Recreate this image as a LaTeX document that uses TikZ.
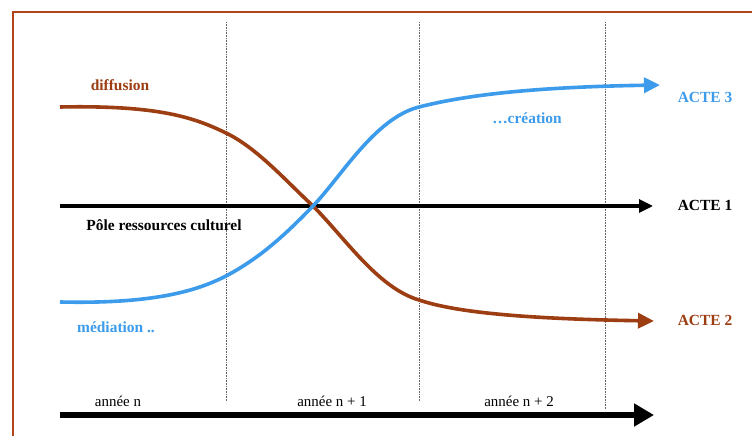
\documentclass[tikz,border=0pt]{standalone}
\usepackage{fontspec}
\setmainfont{Liberation Serif}
\usetikzlibrary{arrows.meta}
\definecolor{brn}{HTML}{9C3D12}
\definecolor{blu}{HTML}{3C9BEA}
\definecolor{frm}{HTML}{B0441A}
\tikzset{
  lbl/.style={font=\bfseries\fontsize{15.5}{18}\selectfont, inner sep=0pt},
  yr/.style={font=\fontsize{15}{18}\selectfont, inner sep=0pt},
  grid/.style={draw=black!60, line width=0.6bp, densely dotted},
  curve/.style={line width=3.6bp, -{Triangle[length=16bp,width=15bp]}},
}
\begin{document}
\begin{tikzpicture}[x=1bp,y=-1bp]
\useasboundingbox (0,0) rectangle (752,436);
\fill[white] (0,0) rectangle (752,436);
\draw[frm, line width=2.2bp] (13,460) -- (13,12) -- (780,12);
% grid lines
\coordinate (g1t) at (226,22); \coordinate (g1b) at (226,401);
\coordinate (g2t) at (419,22); \coordinate (g2b) at (419,401);
\coordinate (g3t) at (605,22); \coordinate (g3b) at (605,409);
\draw[grid] (g1t) -- (g1b);
\draw[grid] (g2t) -- (g2b);
\draw[grid] (g3t) -- (g3b);
% ACTE 1 axis
\coordinate (a1s) at (60,206); \coordinate (a1e) at (653,206);
\draw[line width=3.2bp, -{Triangle[length=14bp,width=13bp]}] (a1s) -- (a1e);
% bottom axis
\coordinate (bs) at (60,415); \coordinate (be) at (654,415);
\draw[line width=6bp, -{Triangle[length=20bp,width=22bp]}] (bs) -- (be);
% brown curve
\coordinate (b0) at (60,107);
\coordinate (b1) at (226,133);
\coordinate (x) at (313,206);
\coordinate (b3) at (419,300);
\coordinate (b4) at (654,321);
\draw[brn, curve] (b0) .. controls (160,105) and (195,118) .. (b1)
  .. controls (257,148) and (285,180) .. (x)
  .. controls (345,238) and (378,288) .. (b3)
  .. controls (460,314) and (540,319) .. (b4);
% blue curve
\coordinate (c0) at (60,302);
\coordinate (c1) at (226,276);
\coordinate (c3) at (419,107);
\coordinate (c4) at (660,85);
\draw[blu, curve] (c0) .. controls (150,304) and (195,292) .. (c1)
  .. controls (260,258) and (285,235) .. (x)
  .. controls (341,177) and (375,118) .. (c3)
  .. controls (470,94) and (540,87) .. (c4);
% labels
\node[lbl, brn] (diff) at (120,85) {diffusion};
\node[lbl, blu] (acte3) at (705,97) {ACTE 3};
\node[lbl, blu] (crea) at (527,118) {\ldots création};
\node[lbl] (acte1) at (705,205) {ACTE 1};
\node[lbl] (pole) at (164,225) {Pôle ressources culturel};
\node[lbl, blu] (med) at (116,327) {médiation ..};
\node[lbl, brn] (acte2) at (705,320) {ACTE 2};
\node[yr] (yn) at (118,401) {année n};
\node[yr] (yn1) at (332,401) {année n + 1};
\node[yr] (yn2) at (519,401) {année n + 2};
\end{tikzpicture}
\end{document}
